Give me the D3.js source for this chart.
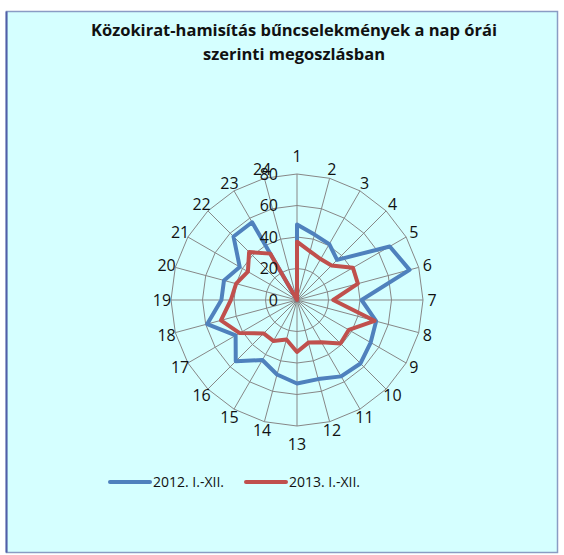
<!DOCTYPE html>
<html>
<head>
<meta charset="utf-8">
<script src="https://cdn.jsdelivr.net/npm/d3@7"></script>
<style>
  html, body { margin: 0; padding: 0; background: #ffffff; }
  svg { display: block; }
  .title { font-family: "Open Sans", sans-serif; font-weight: bold; fill: #111; }
  .tick-label, .hour-label { font-family: "Open Sans", sans-serif; fill: #111; }
  .legend-label { font-family: "Open Sans", sans-serif; fill: #111; }
</style>
</head>
<body>
<div id="chart"></div>
<script>
const HOURS = ["1", "2", "3", "4", "5", "6", "7", "8", "9", "10", "11", "12",
               "13", "14", "15", "16", "17", "18", "19", "20", "21", "22", "23", "24"];
const RADIAL_TICKS = [0, 20, 40, 60, 80];
const SERIES_NAMES = ["2012. I.-XII.", "2013. I.-XII."];
const VALUES_2012 = [48, 43, 41, 36, 68, 74, 41, 52, 54, 57, 56, 52,
                     53, 49, 44, 55, 45, 59, 48, 48, 42, 57, 57, 0];
const VALUES_2013 = [37, 32, 30, 31, 41, 40, 23, 51, 38, 39, 31, 28,
                     33, 26, 30, 30, 42, 50, 42, 40, 36, 43, 34, 0];
const COLORS = ["#4F81BD", "#C0504D"];

const WIDTH = 564;
const HEIGHT = 555;
const CX = 297;
const CY = 300;
const RADIUS = 126;

var svg = d3.select("#chart").append("svg")
    .attr("width", WIDTH)
    .attr("height", HEIGHT);

// chart area frame
svg.append("rect")
    .attr("x", 6.5).attr("y", 11.5)
    .attr("width", 551).attr("height", 541)
    .attr("fill", "#D5FFFF")
    .attr("stroke", "#8A9CC4")
    .attr("stroke-width", 1.5);
svg.append("line")
    .attr("x1", 6.5).attr("y1", 11.5).attr("x2", 6.5).attr("y2", 552.5)
    .attr("stroke", "#4F5FA8").attr("stroke-width", 2);

// title
var title = svg.append("text")
    .attr("class", "title")
    .attr("text-anchor", "middle")
    .style("font-size", "16.5px");
title.append("tspan").attr("x", 294).attr("y", 36)
    .text("Közokirat-hamisítás bűncselekmények a nap órái");
title.append("tspan").attr("x", 294).attr("y", 60)
    .text("szerinti megoszlásban");

var r = d3.scaleLinear().domain([0, 80]).range([0, RADIUS]);
var angle = d3.scaleLinear().domain([0, HOURS.length]).range([0, 2 * Math.PI]);

var g = svg.append("g").attr("transform", "translate(" + CX + "," + CY + ")");

var point = function (i, v) {
    var a = angle(i);
    return [r(v) * Math.sin(a), -r(v) * Math.cos(a)];
};

// grid rings
RADIAL_TICKS.forEach(function (t) {
    if (t === 0) return;
    var pts = HOURS.map(function (h, i) { return point(i, t); });
    g.append("polygon")
        .attr("points", pts.map(function (p) { return p.join(","); }).join(" "))
        .attr("fill", "none")
        .attr("stroke", "#878787")
        .attr("stroke-width", 1);
});

// spokes
g.selectAll(".spoke")
    .data(HOURS)
    .enter().append("line")
    .attr("class", "spoke")
    .attr("x1", 0).attr("y1", 0)
    .attr("x2", function (d, i) { return point(i, 80)[0]; })
    .attr("y2", function (d, i) { return point(i, 80)[1]; })
    .attr("stroke", "#878787")
    .attr("stroke-width", 1);

// series
var radial = d3.lineRadial()
    .angle(function (d, i) { return angle(i); })
    .radius(function (d) { return r(d); })
    .curve(d3.curveLinearClosed);

[VALUES_2012, VALUES_2013].forEach(function (vals, k) {
    g.append("path")
        .attr("d", radial(vals))
        .attr("fill", "none")
        .attr("stroke", COLORS[k])
        .attr("stroke-width", 4)
        .attr("stroke-linejoin", "round");
});

// radial tick labels
g.selectAll(".tick-label")
    .data(RADIAL_TICKS)
    .enter().append("text")
    .attr("class", "tick-label")
    .attr("x", -19)
    .attr("y", function (d) { return -r(d); })
    .attr("dy", "0.35em")
    .attr("text-anchor", "end")
    .style("font-size", "16px")
    .text(function (d) { return d; });

// hour labels
var labelDist = function (i) {
    var a = angle(i);
    return RADIUS + 9 + (Math.abs(Math.cos(a)) > 0.99 ? 9 : 0);
};
g.selectAll(".hour-label")
    .data(HOURS)
    .enter().append("text")
    .attr("class", "hour-label")
    .attr("x", function (d, i) { return labelDist(i) * Math.sin(angle(i)); })
    .attr("y", function (d, i) { return -labelDist(i) * Math.cos(angle(i)); })
    .attr("dy", "0.35em")
    .attr("text-anchor", "middle")
    .style("font-size", "16px")
    .text(function (d) { return d; });

// legend
var legendX = [110, 246];
SERIES_NAMES.forEach(function (name, k) {
    svg.append("line")
        .attr("x1", legendX[k]).attr("x2", legendX[k] + 40)
        .attr("y1", 482).attr("y2", 482)
        .attr("stroke", COLORS[k])
        .attr("stroke-width", 4)
        .attr("stroke-linecap", "round");
    svg.append("text")
        .attr("class", "legend-label")
        .attr("x", legendX[k] + 43)
        .attr("y", 487)
        .style("font-size", "14px")
        .text(name);
});
</script>
</body>
</html>
